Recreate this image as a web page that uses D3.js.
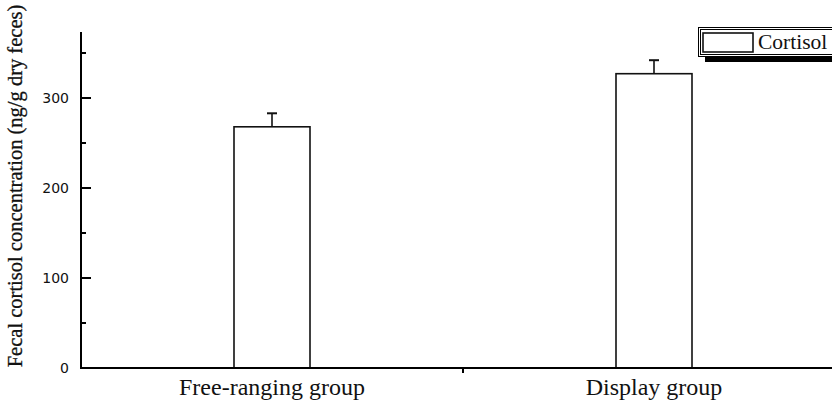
<!DOCTYPE html>
<html><head><meta charset="utf-8">
<script src="https://cdn.jsdelivr.net/npm/d3@7"></script>
<style>body{margin:0;background:#fff}svg{display:block}</style>
</head><body>
<script>
const categories = ["Free-ranging group", "Display group"];
const values = [268, 327];
const errors = [15, 15];
const yTicks = [0, 100, 200, 300];
const seriesName = "Cortisol";

const W = 832, H = 405;
const svg = d3.select("body").append("svg").attr("width", W).attr("height", H);
const x0 = 81, y0 = 368;
const x = d3.scaleBand().domain(categories).range([x0, 845]);
const y = d3.scaleLinear().domain([0, 100]).range([y0, y0 - 90]);

// bars
const bw = 76;
svg.selectAll("rect.bar").data(categories).enter().append("rect")
  .attr("x", d => x(d) + x.bandwidth()/2 - bw/2)
  .attr("y", (d,i) => y(values[i]))
  .attr("width", bw)
  .attr("height", (d,i) => y0 - y(values[i]))
  .attr("fill", "#fff").attr("stroke", "#111").attr("stroke-width", 1.6);

// error bars
categories.forEach((c,i) => {
  const cx = x(c) + x.bandwidth()/2;
  svg.append("line").attr("x1", cx).attr("x2", cx)
    .attr("y1", y(values[i])).attr("y2", y(values[i]+errors[i]))
    .attr("stroke", "#111").attr("stroke-width", 1.6);
  svg.append("line").attr("x1", cx-5).attr("x2", cx+5)
    .attr("y1", y(values[i]+errors[i])).attr("y2", y(values[i]+errors[i]))
    .attr("stroke", "#111").attr("stroke-width", 2);
});

// y axis
svg.append("line").attr("x1", x0).attr("x2", x0).attr("y1", 32).attr("y2", y0+1)
  .attr("stroke", "#000").attr("stroke-width", 2);
d3.range(0, 400, 50).forEach(v => {
  if (v === 0) return;
  const major = v % 100 === 0;
  svg.append("line").attr("x1", x0).attr("x2", x0 + (major ? 10 : 5))
    .attr("y1", y(v)).attr("y2", y(v)).attr("stroke", "#000").attr("stroke-width", 2);
});
yTicks.forEach(v => {
  svg.append("text").attr("x", 69).attr("y", y(v) + 5)
    .attr("text-anchor", "end").attr("font-family", "DejaVu Sans")
    .attr("font-size", 14).attr("fill", "#111").text(v);
});

// x axis
svg.append("line").attr("x1", x0-1).attr("x2", W).attr("y1", y0).attr("y2", y0)
  .attr("stroke", "#000").attr("stroke-width", 2);
const mid = x(categories[1]);
svg.append("line").attr("x1", mid).attr("x2", mid).attr("y1", y0).attr("y2", y0+5)
  .attr("stroke", "#000").attr("stroke-width", 2);
categories.forEach(c => {
  svg.append("text").attr("x", x(c) + x.bandwidth()/2).attr("y", 395)
    .attr("text-anchor", "middle").attr("font-family", "Liberation Serif")
    .attr("font-size", 24).attr("fill", "#111").text(c);
});

// y label
svg.append("text").attr("transform", "translate(22,186) rotate(-90)")
  .attr("text-anchor", "middle").attr("font-family", "Liberation Serif")
  .attr("font-size", 20.5).attr("fill", "#111")
  .attr("stroke", "#111").attr("stroke-width", 0.3)
  .text("Fecal cortisol concentration (ng/g dry feces)");

// legend
const lg = svg.append("g");
lg.append("rect").attr("x", 705).attr("y", 57).attr("width", 140).attr("height", 5).attr("fill", "#000");
lg.append("rect").attr("x", 698.5).attr("y", 27.5).attr("width", 150).attr("height", 29)
  .attr("fill", "#fff").attr("stroke", "#000").attr("stroke-width", 1);
lg.append("rect").attr("x", 700.5).attr("y", 29.5).attr("width", 150).attr("height", 25)
  .attr("fill", "none").attr("stroke", "#000").attr("stroke-width", 1);
lg.append("rect").attr("x", 703).attr("y", 33).attr("width", 50).attr("height", 19)
  .attr("fill", "#fff").attr("stroke", "#111").attr("stroke-width", 1.6);
lg.append("text").attr("x", 758).attr("y", 49).attr("font-family", "Liberation Serif")
  .attr("font-size", 21.5).attr("fill", "#111").text(seriesName);
</script>
</body></html>
